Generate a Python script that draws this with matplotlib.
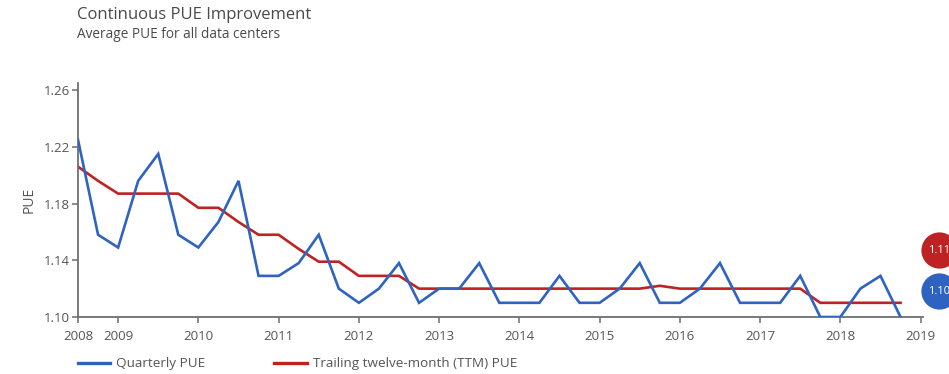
import numpy as np
import pandas as pd
import matplotlib
matplotlib.use("Agg")
import matplotlib.pyplot as plt
from matplotlib.lines import Line2D

plt.rcParams['font.family'] = ['Open Sans', 'DejaVu Sans']

# quarterly data, 2008 Q3 .. 2018 Q4
quarters = pd.period_range('2008Q3', '2018Q4', freq='Q')

quarterly_pue = [1.225, 1.158, 1.149, 1.196, 1.215, 1.158, 1.149, 1.167, 1.196, 1.129,
                 1.129, 1.138, 1.158, 1.120, 1.110, 1.120, 1.138, 1.110, 1.120, 1.120,
                 1.138, 1.110, 1.110, 1.110, 1.129, 1.110, 1.110, 1.120, 1.138, 1.110,
                 1.110, 1.120, 1.138, 1.110, 1.110, 1.110, 1.129, 1.100, 1.100, 1.120,
                 1.129, 1.100]

ttm_pue = [1.206, 1.196, 1.187, 1.187, 1.187, 1.187, 1.177, 1.177, 1.167, 1.158,
           1.158, 1.148, 1.139, 1.139, 1.129, 1.129, 1.129, 1.120, 1.120, 1.120,
           1.120, 1.120, 1.120, 1.120, 1.120, 1.120, 1.120, 1.120, 1.120, 1.122,
           1.120, 1.120, 1.120, 1.120, 1.120, 1.120, 1.120, 1.110, 1.110, 1.110,
           1.110, 1.110]

year_labels = ['2008', '2009', '2010', '2011', '2012', '2013', '2014', '2015',
               '2016', '2017', '2018', '2019']
pue_ticks = [1.10, 1.14, 1.18, 1.22, 1.26]

blue = '#2f63c2'
red = '#bf2222'
grey = '#555555'

x = np.array([q.year + (q.quarter - 1) / 4 for q in quarters])

fig = plt.figure(figsize=(9.49, 3.74), dpi=100)
ax = fig.add_axes([78 / 949, 1 - 317 / 374, 845 / 949, 234 / 374])

ax.plot(x, quarterly_pue, color=blue, lw=1.9, solid_joinstyle='miter', zorder=3)
ax.plot(x, ttm_pue, color=red, lw=1.9, zorder=2)

ax.set_ylim(1.10, 1.265)
ax.set_xlim(x[0], 2019.03)
ax.set_yticks(pue_ticks)
ax.set_yticklabels([f'{v:.2f}' for v in pue_ticks])
ax.set_xticks([x[0]] + list(range(2009, 2020)))
ax.set_xticklabels(year_labels)

for s in ['top', 'right']:
    ax.spines[s].set_visible(False)
for s in ['left', 'bottom']:
    ax.spines[s].set_color('#6e6e6e')
    ax.spines[s].set_linewidth(1.3)
ax.tick_params(axis='both', colors='#6e6e6e', labelcolor=grey, labelsize=9.5,
               length=4, width=1.1)
ax.tick_params(axis='x', pad=5)
ax.tick_params(axis='y', pad=2)
ax.set_ylabel('PUE', color=grey, fontsize=10, labelpad=5)

# latest-value badges at the right end
badges = [(ttm_pue[-1], red, 0.286), (quarterly_pue[-1], blue, 0.111)]
for val, col, ypos in badges:
    ax.scatter([1.019], [ypos], s=680, color=col, transform=ax.transAxes,
               clip_on=False, zorder=5, linewidths=0)
    ax.text(1.019, ypos, f'{val:.2f}', transform=ax.transAxes, color='white',
            fontsize=8, ha='center', va='center', zorder=6)

fig.text(77 / 949, 1 - 15 / 374, 'Continuous PUE Improvement', color='#4a4a4a',
         fontsize=12, va='center', ha='left')
fig.text(77 / 949, 1 - 35 / 374, 'Average PUE for all data centers', color='#4a4a4a',
         fontsize=9.8, va='center', ha='left')

handles = [Line2D([], [], color=blue, lw=2.4), Line2D([], [], color=red, lw=2.4)]
leg = fig.legend(handles, ['Quarterly PUE', 'Trailing twelve-month (TTM) PUE'],
                 loc='center left', bbox_to_anchor=(78 / 949, 1 - 364 / 374), ncol=2,
                 frameon=False, fontsize=9.7, handlelength=2.4, handletextpad=0.45,
                 columnspacing=5.1, borderpad=0, borderaxespad=0)
for t in leg.get_texts():
    t.set_color(grey)

fig.savefig('out.png', dpi=100)
